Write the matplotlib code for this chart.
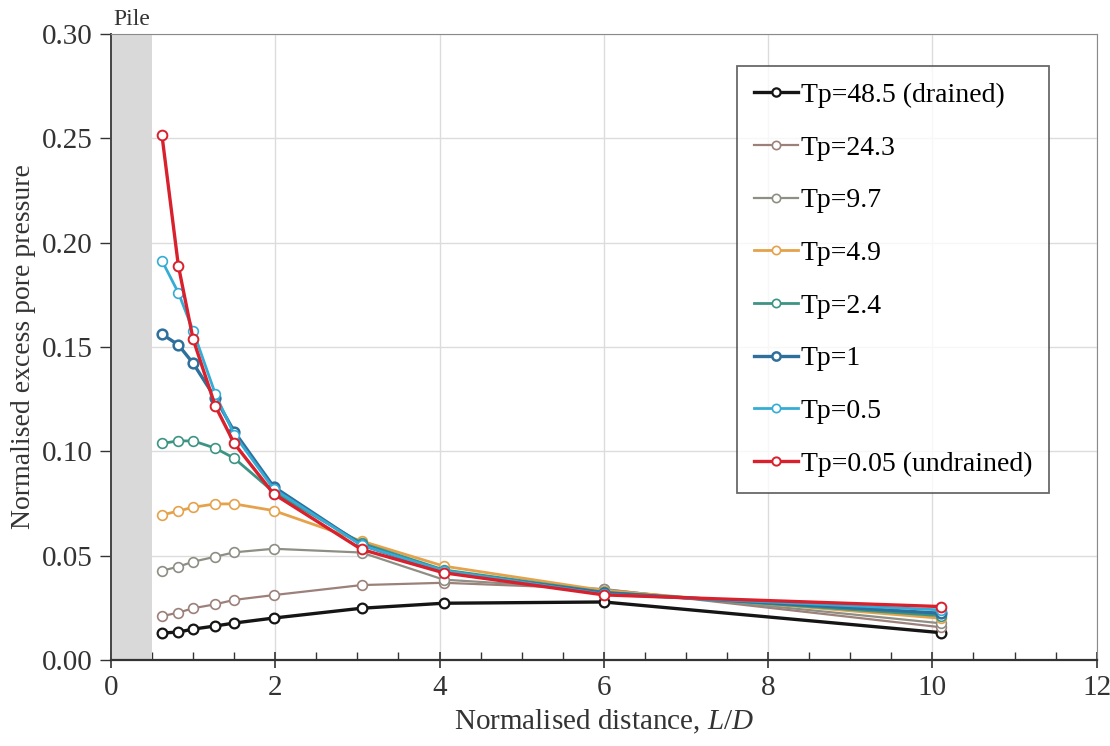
import matplotlib
matplotlib.use("Agg")
import matplotlib.pyplot as plt
from matplotlib.ticker import MultipleLocator

plt.rcParams["font.family"] = ["Liberation Serif", "DejaVu Serif"]
plt.rcParams["mathtext.fontset"] = "custom"
plt.rcParams["mathtext.it"] = "Liberation Serif:italic"
plt.rcParams["mathtext.rm"] = "Liberation Serif"

# normalised distance L/D of the measurement points
x = [0.62, 0.82, 1.0, 1.27, 1.5, 1.98, 3.05, 4.05, 6.0, 10.1]

labels = ["Tp=48.5 (drained)", "Tp=24.3", "Tp=9.7", "Tp=4.9",
          "Tp=2.4", "Tp=1", "Tp=0.5", "Tp=0.05 (undrained)"]

tp_48_5 = [0.0129, 0.0134, 0.0148, 0.0163, 0.0177, 0.0201, 0.0248, 0.0272, 0.0278, 0.0131]
tp_24_3 = [0.0210, 0.0227, 0.0248, 0.0267, 0.0288, 0.0311, 0.0359, 0.0370, 0.0340, 0.0157]
tp_9_7 = [0.0428, 0.0447, 0.0471, 0.0495, 0.0516, 0.0533, 0.0515, 0.0385, 0.0338, 0.0176]
tp_4_9 = [0.0695, 0.0714, 0.0732, 0.0748, 0.0748, 0.0716, 0.0570, 0.0450, 0.0333, 0.0200]
tp_2_4 = [0.1038, 0.1050, 0.1050, 0.1015, 0.0967, 0.0805, 0.0560, 0.0432, 0.0325, 0.0212]
tp_1 = [0.1562, 0.1510, 0.1422, 0.1255, 0.1095, 0.0830, 0.0552, 0.0422, 0.0322, 0.0224]
tp_0_5 = [0.1914, 0.1760, 0.1578, 0.1275, 0.1080, 0.0820, 0.0550, 0.0428, 0.0315, 0.0240]
tp_0_05 = [0.2516, 0.1890, 0.1537, 0.1217, 0.1038, 0.0796, 0.0530, 0.0418, 0.0312, 0.0256]

series = [tp_48_5, tp_24_3, tp_9_7, tp_4_9, tp_2_4, tp_1, tp_0_5, tp_0_05]
colors = ["#151515", "#9c807a", "#8e8e84", "#e5a24a",
          "#3b9484", "#2f6f9c", "#35acd6", "#d8212d"]
widths = [2.4, 1.6, 1.6, 2.0, 2.0, 2.4, 2.0, 2.4]
medge = [1.6, 1.2, 1.2, 1.2, 1.2, 1.8, 1.2, 1.4]

fig = plt.figure(figsize=(11.1, 7.46), dpi=100)
ax = fig.add_axes([0.1, 0.1153, 0.888, 0.8391])

ax.axvspan(0, 0.5, color="#d9d9d9", zorder=1, lw=0)
ax.text(0.25, 0.302, "Pile", ha="center", va="bottom", fontsize=17, color="#333333")

for ys, lab, c, lw, me in zip(series, labels, colors, widths, medge):
    ax.plot(x, ys, "-o", color=c, lw=lw, ms=7, mfc="white", mec=c, mew=me,
            label=lab, zorder=3)

ax.set_xlim(0, 12)
ax.set_ylim(0, 0.30)
ax.xaxis.set_major_locator(MultipleLocator(2))
ax.xaxis.set_minor_locator(MultipleLocator(0.5))
ax.yaxis.set_major_locator(MultipleLocator(0.05))
ax.yaxis.set_major_formatter(lambda v, p: f"{v:.2f}")
ax.grid(True, which="major", color="#dcdcdc", lw=1.0, zorder=0)
ax.set_axisbelow(True)
ax.tick_params(axis="x", which="major", direction="inout", length=12, width=1.2,
               labelsize=21, pad=5)
ax.tick_params(axis="x", which="minor", direction="in", length=6, width=1.0)
ax.tick_params(axis="y", which="major", direction="out", length=8, width=1.0,
               labelsize=21, pad=5)
for s in ax.spines.values():
    s.set_color("#8a8a8a")
ax.spines["left"].set_color("#444444")
ax.spines["bottom"].set_color("#333333")
ax.spines["left"].set_linewidth(1.4)
ax.spines["bottom"].set_linewidth(1.6)
ax.tick_params(colors="#333333", which="both")
ax.tick_params(labelcolor="#333333")

ax.set_xlabel("Normalised distance, $\\it{L/D}$", fontsize=21, color="#333333", labelpad=5)
ax.set_ylabel("Normalised excess pore pressure", fontsize=20, color="#333333", labelpad=4)

leg = ax.legend(loc="upper left", bbox_to_anchor=(0.664, 0.9115), bbox_transform=fig.transFigure,
                fontsize=20, frameon=True, fancybox=False, edgecolor="#444444",
                labelspacing=0.98, handlelength=1.6, handletextpad=0.1,
                borderpad=0.6, borderaxespad=0, markerscale=0.85)
leg.get_frame().set_linewidth(1.3)

fig.savefig("out.png", dpi=100)
